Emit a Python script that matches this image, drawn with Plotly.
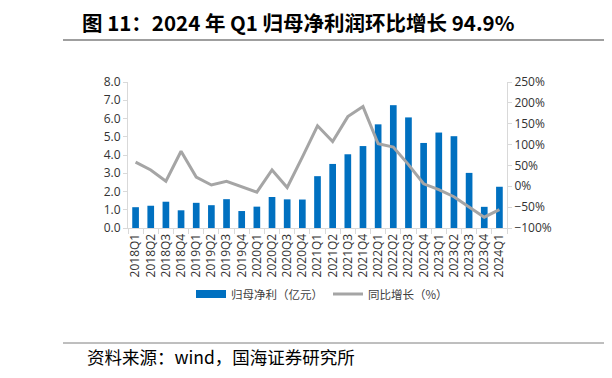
import plotly.graph_objects as go

quarters = ["2018Q1","2018Q2","2018Q3","2018Q4","2019Q1","2019Q2","2019Q3","2019Q4",
            "2020Q1","2020Q2","2020Q3","2020Q4","2021Q1","2021Q2","2021Q3","2021Q4",
            "2022Q1","2022Q2","2022Q3","2022Q4","2023Q1","2023Q2","2023Q3","2023Q4","2024Q1"]
net_profit = [1.14, 1.22, 1.44, 0.97, 1.38, 1.25, 1.58, 0.93,
              1.17, 1.70, 1.57, 1.56, 2.84, 3.51, 4.04, 4.49,
              5.68, 6.73, 6.06, 4.66, 5.23, 5.03, 3.02, 1.16, 2.26]
yoy_growth = [58, 39, 12, 84, 22, 3, 12, -1,
              -14, 39, -3, 70, 145, 107, 167, 191,
              102, 94, 52, 6, -8, -25, -49, -74, -56]

FONT = "Open Sans, Noto Sans CJK SC, sans-serif"
CJK = "Noto Sans CJK SC, sans-serif"
BLUE = "#0070C0"
GRAY = "#A5A5A5"

# page has an 8px body margin; targets below are in window pixels
OFF = 8
L, R, T, B = 128 - OFF, 612 - (507 - OFF), 82 - OFF, 378 - (228 - OFF)
pw = 612 - L - R
ph = 378 - T - B

def px(x):
    return (x - OFF - L) / pw

def py(y):
    return (378 - B - (y - OFF)) / ph

fig = go.Figure()
fig.add_trace(go.Bar(x=quarters, y=net_profit, name="归母净利（亿元）", showlegend=False,
                     marker=dict(color=BLUE, line=dict(width=0)), yaxis="y"))
# legend entry for bars drawn as a wide swatch like the source
fig.add_trace(go.Scatter(x=[None], y=[None], name="归母净利（亿元）", mode="lines",
                         line=dict(color=BLUE, width=8), yaxis="y"))
fig.add_trace(go.Scatter(x=quarters, y=yoy_growth, name="同比增长（%）", mode="lines",
                         line=dict(color=GRAY, width=3), yaxis="y2"))

fig.update_layout(
    width=612, height=378,
    margin=dict(l=L, r=R, t=T, b=B, autoexpand=False),
    paper_bgcolor="white", plot_bgcolor="white",
    bargap=0.56,
    showlegend=True,
    legend=dict(orientation="h", x=px(322), xanchor="center", y=py(294), yanchor="middle",
                font=dict(family=CJK, size=11.5, color="#404040"), itemwidth=30,
                bgcolor="rgba(0,0,0,0)"),
    xaxis=dict(type="category", tickangle=-90, showline=True, linecolor="#D9D9D9", linewidth=1,
               ticks="outside", ticklen=5, tickcolor="#D9D9D9", tickson="boundaries",
               tickfont=dict(family=FONT, size=12, color="#333333"), showgrid=False),
    yaxis=dict(range=[0, 8], dtick=1, tickformat=".1f", showline=True, linecolor="#D9D9D9",
               ticks="outside", ticklen=4, tickcolor="#D9D9D9", showgrid=False, zeroline=False,
               tickfont=dict(family=FONT, size=12, color="#333333")),
    yaxis2=dict(range=[-100, 250], dtick=50, ticksuffix="%", overlaying="y", side="right",
                showline=True, linecolor="#D9D9D9", ticks="outside", ticklen=4, tickcolor="#D9D9D9",
                showgrid=False, zeroline=False,
                tickfont=dict(family=FONT, size=12, color="#333333")),
    shapes=[
        dict(type="line", xref="paper", yref="paper", x0=px(63), x1=px(640), y0=py(40), y1=py(40),
             line=dict(color="#7F7F7F", width=1.5)),
        dict(type="line", xref="paper", yref="paper", x0=px(63), x1=px(640), y0=py(343), y1=py(343),
             line=dict(color="#7F7F7F", width=1)),
    ],
)

fig.add_annotation(text="<b>图 11：2024 年 Q1 归母净利润环比增长 94.9%</b>", xref="paper", yref="paper",
                   x=px(80), y=py(22), xanchor="left", yanchor="middle", showarrow=False,
                   font=dict(family=CJK, size=20.5, color="#000000"))
fig.add_annotation(text="资料来源：wind，国海证券研究所", xref="paper", yref="paper",
                   x=px(85), y=py(356), xanchor="left", yanchor="middle", showarrow=False,
                   font=dict(family=CJK, size=17.5, color="#000000"))

fig.write_html("out.html")
